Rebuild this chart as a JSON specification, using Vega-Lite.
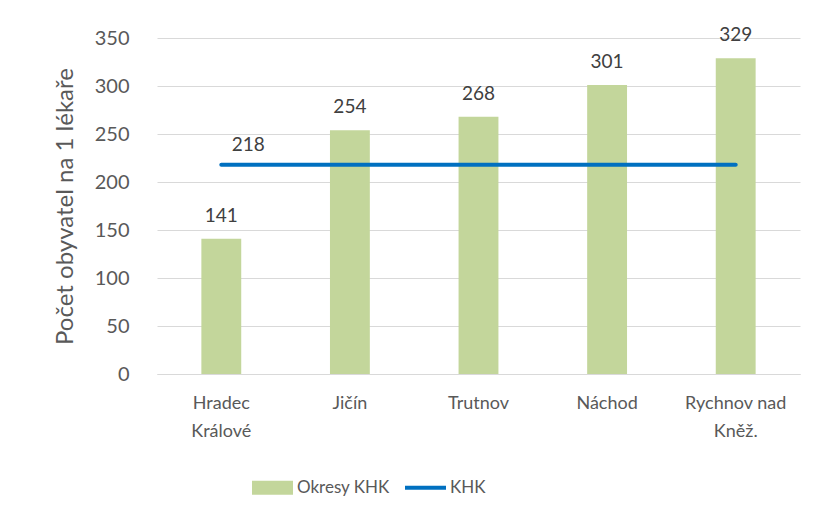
{
  "$schema": "https://vega.github.io/schema/vega-lite/v6.json",
  "width": 643,
  "height": 336,
  "autosize": {"type": "none"},
  "padding": {"left": 157, "top": 38, "right": 15, "bottom": 146},
  "background": "white",
  "config": {
    "font": "Lato",
    "view": {"stroke": null},
    "axis": {"labelFont": "Lato", "titleFont": "Lato", "labelColor": "#595959", "titleColor": "#595959"}
  },
  "data": {
    "values": [
      {"okres": "Hradec Králové", "hodnota": 141, "khk": 218},
      {"okres": "Jičín", "hodnota": 254, "khk": 218},
      {"okres": "Trutnov", "hodnota": 268, "khk": 218},
      {"okres": "Náchod", "hodnota": 301, "khk": 218},
      {"okres": "Rychnov nad Kněž.", "hodnota": 329, "khk": 218}
    ]
  },
  "encoding": {
    "x": {
      "field": "okres",
      "type": "nominal",
      "sort": null,
      "scale": {"paddingInner": 0.69, "paddingOuter": 0.345},
      "axis": {
        "title": null,
        "labelAngle": 0,
        "labelFontSize": 18,
        "labelPadding": 20,
        "labelLineHeight": 28,
        "labelBaseline": "top",
        "ticks": false,
        "domainColor": "#D9D9D9",
        "domainWidth": 1,
        "labelExpr": "datum.label == 'Hradec Králové' ? ['Hradec', 'Králové'] : datum.label == 'Rychnov nad Kněž.' ? ['Rychnov nad', 'Kněž.'] : datum.label"
      }
    }
  },
  "layer": [
    {
      "mark": {"type": "bar"},
      "encoding": {
        "y": {
          "field": "hodnota",
          "type": "quantitative",
          "scale": {"domain": [0, 350]},
          "axis": {
            "title": "Počet obyvatel na 1 lékaře",
            "titleFontSize": 24,
            "titleFontWeight": "normal",
            "titlePadding": 17,
            "values": [0, 50, 100, 150, 200, 250, 300, 350],
            "labelFontSize": 20,
            "labelPadding": 28,
            "ticks": false,
            "domain": false,
            "gridColor": "#D9D9D9",
            "gridWidth": 1
          }
        },
        "color": {
          "datum": "Okresy KHK",
          "type": "nominal",
          "scale": {"domain": ["Okresy KHK", "KHK"], "range": ["#C3D69B", "#0070C0"]},
          "legend": {
            "title": null,
            "orient": "none",
            "direction": "horizontal",
            "legendX": 95,
            "legendY": 429,
            "labelFont": "Lato",
            "labelFontSize": 17,
            "labelColor": "#595959",
            "labelOffset": 4,
            "columnPadding": 15,
            "symbolSize": 1681,
            "encode": {
              "symbols": {
                "update": {
                  "shape": {"signal": "datum.value === 'KHK' ? 'M-1,-0.1H1V0.1H-1Z' : 'M-1,-0.34H1V0.34H-1Z'"},
                  "fill": {"signal": "datum.value === 'KHK' ? '#0070C0' : '#C3D69B'"},
                  "stroke": {"value": "transparent"},
                  "strokeWidth": {"value": 0},
                  "opacity": {"value": 1}
                }
              }
            }
          }
        }
      }
    },
    {
      "mark": {"type": "text", "fontSize": 19, "color": "#404040", "baseline": "alphabetic", "dy": -17},
      "encoding": {
        "y": {"field": "hodnota", "type": "quantitative"},
        "text": {"field": "hodnota", "type": "quantitative"}
      }
    },
    {
      "mark": {"type": "line", "strokeWidth": 4, "strokeCap": "round"},
      "encoding": {
        "y": {"field": "khk", "type": "quantitative"},
        "color": {"datum": "KHK", "type": "nominal"}
      }
    },
    {
      "transform": [{"filter": "datum.okres == 'Hradec Králové'"}],
      "mark": {"type": "text", "fontSize": 19, "color": "#404040", "baseline": "alphabetic", "dy": -14, "dx": 27},
      "encoding": {
        "y": {"field": "khk", "type": "quantitative"},
        "text": {"field": "khk", "type": "quantitative"}
      }
    }
  ]
}
